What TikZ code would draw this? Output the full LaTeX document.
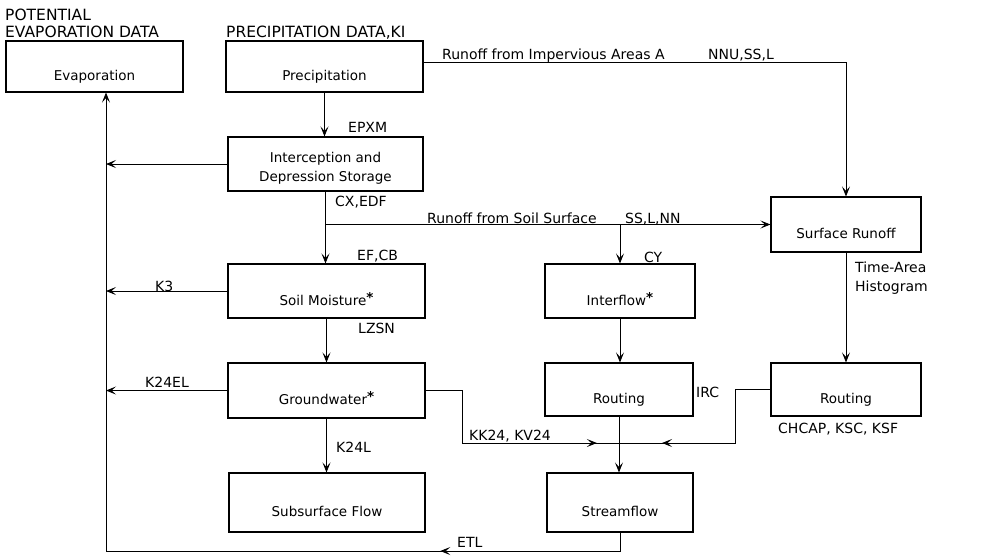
\documentclass[tikz,border=0pt]{standalone}
\usepackage{fontspec}
\setmainfont{DejaVu Sans}
\usetikzlibrary{arrows.meta, positioning, decorations.markings}

\newcommand{\starmark}{\raisebox{3pt}{\textbf{*}}}

\begin{document}
\begin{tikzpicture}[x=1pt, y=-1pt, >={Stealth[length=10pt, width=8pt, inset=4.5pt]},
    every node/.style={font=\fontsize{13.5}{16}\selectfont},
    block/.style={draw, line width=1.1pt, inner sep=0pt, minimum height=54pt, text height=28pt, text depth=0pt},
    flow/.style={line width=0.8pt},
    tag/.style={anchor=base west, inner sep=0pt, font=\fontsize{14}{16}\selectfont},
    heading/.style={tag, font=\fontsize{15.5}{18}\selectfont},
    arrowat/.style={postaction={decorate}, decoration={markings, mark=at position #1 with {\arrow{>}}}}]
  \useasboundingbox (0,0) rectangle (991,555);

  % boxes
  \node[block, minimum width=177pt, minimum height=51pt] (evap) at (94.5,66.5) {Evaporation};
  \node[block, minimum width=197pt, minimum height=51pt] (precip) at (324.5,66.5) {Precipitation};
  \node[block, minimum width=195pt, align=center, text height=, text depth=] (intercept) at (325.5,164) {\rule{0pt}{18pt}Interception and\\[3pt]Depression Storage};
  \node[block, minimum width=197pt] (soil) at (326.5,291) {Soil Moisture\starmark};
  \node[block, minimum width=197pt, minimum height=55pt] (ground) at (326.5,390.5) {Groundwater\starmark};
  \node[block, minimum width=196pt, minimum height=59pt] (subsurf) at (327,502.5) {Subsurface Flow};
  \node[block, minimum width=150pt] (interflow) at (620,291) {Interflow\starmark};
  \node[block, minimum width=148pt, minimum height=53pt] (routemid) at (619,389.5) {Routing};
  \node[block, minimum width=146pt, minimum height=59pt] (stream) at (620,502.5) {Streamflow};
  \node[block, minimum width=150pt, minimum height=55pt] (surf) at (846,224.5) {Surface Runoff};
  \node[block, minimum width=150pt, minimum height=53pt] (routeright) at (846,389.5) {Routing};

  % corners of the connectors
  \coordinate (leftline) at (106,551);
  \coordinate (split) at (intercept.south |- surf.west);
  \coordinate (kkbend) at (462,443);
  \coordinate (join) at (routemid.south |- kkbend);
  \coordinate (rtbend) at (735,443);

  % connectors
  \draw[->, flow] (precip.south) -- (precip.south |- intercept.north);
  \draw[->, flow] (intercept.west) -- (intercept.west -| leftline);
  \draw[->, flow] (soil.west) -- (soil.west -| leftline);
  \draw[->, flow] (ground.west) -- (ground.west -| leftline);
  \draw[->, flow] ([yshift=4pt]precip.east) -| (surf.north);
  \draw[->, flow] (intercept.south) -- (intercept.south |- soil.north);
  \draw[->, flow] (split) -- (surf.west);
  \draw[->, flow] (split -| interflow.north) -- (interflow.north);
  \draw[->, flow] (soil.south) -- (ground.north);
  \draw[->, flow] (ground.south) -- (ground.south |- subsurf.north);
  \draw[->, flow] (interflow.south) -- (interflow.south |- routemid.north);
  \draw[->, flow] (surf.south) -- (routeright.north);
  \draw[->, flow] (routemid.south) -- (routemid.south |- stream.north);
  \draw[flow, arrowat=0.91] (ground.east) -| (kkbend) -- (join);
  \draw[flow, arrowat=0.79] (routeright.west) -| (rtbend) -- (join);
  \draw[->, flow, arrowat=0.2] (stream.south) |- (leftline) -- (leftline |- evap.south);

  % labels
  \node[heading] (potential) at (5,20) {POTENTIAL};
  \node[heading] (evapdata) at (5,37) {EVAPORATION DATA};
  \node[heading] (precipdata) at (226,37) {PRECIPITATION DATA,KI};
  \node[tag] (impervious) at (442,59) {Runoff from Impervious Areas A};
  \node[tag] (nnu) at (708,59) {NNU,SS,L};
  \node[tag] (epxm) at (348,132) {EPXM};
  \node[tag] (cxedf) at (335,206) {CX,EDF};
  \node[tag] (soilsurface) at (427,223) {Runoff from Soil Surface};
  \node[tag] (ssl) at (625,223) {SS,L,NN};
  \node[tag] (efcb) at (357,260) {EF,CB};
  \node[tag] (cy) at (644,262) {CY};
  \node[tag] (kthree) at (155,291) {K3};
  \node[tag] (lzsn) at (358,333) {LZSN};
  \node[tag] (timearea) at (855,272) {Time-Area};
  \node[tag] (histogram) at (855,291) {Histogram};
  \node[tag] (kel) at (145,387) {K24EL};
  \node[tag] (irc) at (696,397) {IRC};
  \node[tag] (chcap) at (778,433) {CHCAP, KSC, KSF};
  \node[tag] (kk) at (469,440) {KK24, KV24};
  \node[tag] (kl) at (336,452) {K24L};
  \node[tag] (etl) at (457,547) {ETL};
\end{tikzpicture}
\end{document}
